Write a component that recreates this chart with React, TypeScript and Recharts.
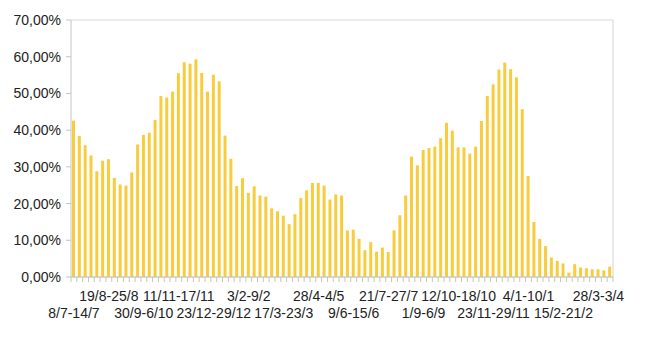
import { Bar, BarChart, CartesianGrid, XAxis, YAxis } from "recharts";

// weekly share, one bar per week starting 8/7
const weeks = [
  "8/7-14/7", "15/7-21/7", "22/7-28/7", "29/7-4/8", "5/8-11/8", "12/8-18/8",
  "19/8-25/8", "26/8-1/9", "2/9-8/9", "9/9-15/9", "16/9-22/9", "23/9-29/9",
  "30/9-6/10", "7/10-13/10", "14/10-20/10", "21/10-27/10", "28/10-3/11", "4/11-10/11",
  "11/11-17/11", "18/11-24/11", "25/11-1/12", "2/12-8/12", "9/12-15/12", "16/12-22/12",
  "23/12-29/12", "30/12-5/1", "6/1-12/1", "13/1-19/1", "20/1-26/1", "27/1-2/2",
  "3/2-9/2", "10/2-16/2", "17/2-23/2", "24/2-2/3", "3/3-9/3", "10/3-16/3",
  "17/3-23/3", "24/3-30/3", "31/3-6/4", "7/4-13/4", "14/4-20/4", "21/4-27/4",
  "28/4-4/5", "5/5-11/5", "12/5-18/5", "19/5-25/5", "26/5-1/6", "2/6-8/6",
  "9/6-15/6", "16/6-22/6", "23/6-29/6", "30/6-6/7", "7/7-13/7", "14/7-20/7",
  "21/7-27/7", "28/7-3/8", "4/8-10/8", "11/8-17/8", "18/8-24/8", "25/8-31/8",
  "1/9-6/9", "7/9-13/9", "14/9-20/9", "21/9-27/9", "28/9-4/10", "5/10-11/10",
  "12/10-18/10", "19/10-25/10", "26/10-1/11", "2/11-8/11", "9/11-15/11", "16/11-22/11",
  "23/11-29/11", "30/11-6/12", "7/12-13/12", "14/12-20/12", "21/12-27/12", "28/12-3/1",
  "4/1-10/1", "11/1-17/1", "18/1-24/1", "25/1-31/1", "1/2-7/2", "8/2-14/2",
  "15/2-21/2", "22/2-28/2", "1/3-7/3", "8/3-14/3", "15/3-21/3", "22/3-27/3",
  "28/3-3/4", "4/4-10/4", "11/4-17/4",
];

const share = [
  42.6, 38.4, 35.9, 33.1, 28.8, 31.7, 32.1, 27.0, 25.2, 24.9, 28.5, 36.1,
  38.7, 39.3, 42.8, 49.3, 48.9, 50.5, 55.5, 58.5, 58.1, 59.3, 55.6, 50.5,
  55.1, 53.3, 38.5, 32.2, 24.8, 26.9, 22.9, 24.7, 22.2, 21.9, 18.7, 17.9,
  16.7, 14.4, 17.1, 21.5, 23.6, 25.6, 25.6, 24.9, 21.1, 22.5, 22.2, 12.7,
  12.9, 10.4, 7.3, 9.5, 6.9, 8.0, 6.8, 12.7, 16.8, 22.2, 32.8, 30.4,
  34.6, 35.1, 35.5, 37.8, 42.0, 39.9, 35.3, 35.3, 33.6, 35.5, 42.5, 49.3,
  52.5, 56.5, 58.4, 56.6, 54.4, 45.7, 27.5, 15.0, 10.4, 8.4, 5.3, 4.4,
  3.7, 1.2, 3.5, 2.6, 2.4, 2.1, 2.1, 1.8, 2.8,
];

const yTicks = [0, 10, 20, 30, 40, 50, 60, 70];

const data = weeks.map((w, i) => ({ week: w, share: share[i] }));

const pct = (v: number) => v.toFixed(2).replace(".", ",") + "%";

const WeekTick = (props: any) => {
  const { x, y, payload } = props;
  const idx = payload.index;
  const half = payload.offset || 2.9;
  const showLabel = idx % 6 === 0;
  const upper = Math.floor(idx / 6) % 2 === 1;
  return (
    <g>
      <line x1={x - half} x2={x - half} y1={y} y2={y + 5} stroke="#c4c4c4" />
      {idx === weeks.length - 1 && (
        <line x1={x + half} x2={x + half} y1={y} y2={y + 5} stroke="#c4c4c4" />
      )}
      {showLabel && (
        <text x={x} y={y + (upper ? 24 : 41)} textAnchor="middle" fontSize={14} fill="#222">
          {payload.value}
        </text>
      )}
    </g>
  );
};

export default function App() {
  return (
    <div style={{ position: "absolute", left: 0, top: 0, fontFamily: "'Liberation Sans', Arial, sans-serif" }}>
      <BarChart
        width={650}
        height={337}
        data={data}
        margin={{ top: 20, right: 0, bottom: 0, left: 0 }}
        barSize={3}
      >
        <CartesianGrid vertical={false} stroke="#d9d9d9" />
        <XAxis
          dataKey="week"
          interval={0}
          height={60}
          tickSize={0}
          tickMargin={0}
          tickLine={false}
          axisLine={{ stroke: "#c4c4c4" }}
          tick={<WeekTick />}
        />
        <YAxis
          yAxisId="left"
          domain={[0, 70]}
          ticks={yTicks}
          width={71}
          tickSize={5}
          tickMargin={5}
          tickFormatter={pct}
          tickLine={{ stroke: "#c4c4c4" }}
          axisLine={{ stroke: "#c4c4c4" }}
          tick={{ fontSize: 14, fill: "#222" }}
        />
        <YAxis
          yAxisId="right"
          orientation="right"
          domain={[0, 70]}
          width={37}
          tick={false}
          tickLine={false}
          axisLine={{ stroke: "#d4d4d4" }}
        />
        <Bar yAxisId="left" dataKey="share" fill="#F9CC3E" isAnimationActive={false} />
      </BarChart>
    </div>
  );
}
